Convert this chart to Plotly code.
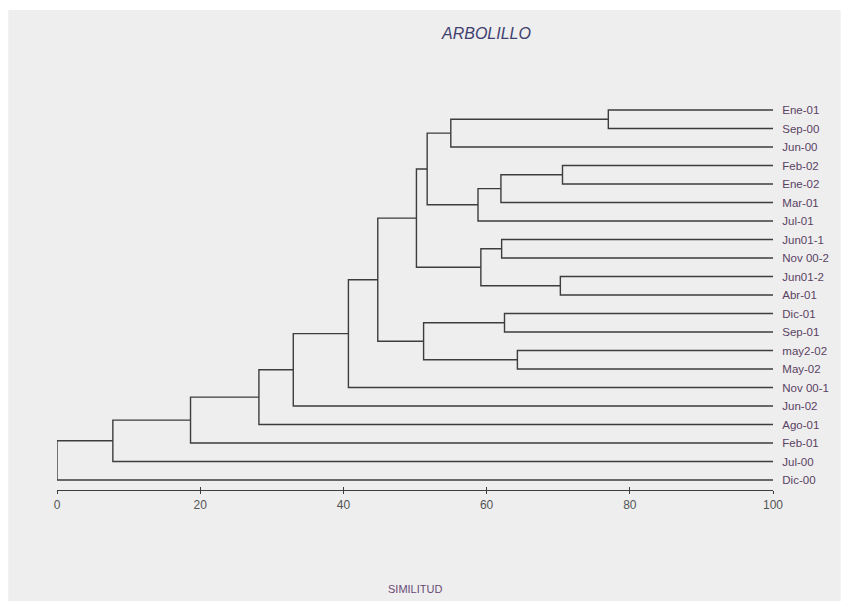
import plotly.graph_objects as go

# ---- data -------------------------------------------------------------
leaves = ["Ene-01", "Sep-00", "Jun-00", "Feb-02", "Ene-02", "Mar-01", "Jul-01",
          "Jun01-1", "Nov 00-2", "Jun01-2", "Abr-01", "Dic-01", "Sep-01",
          "may2-02", "May-02", "Nov 00-1", "Jun-02", "Ago-01", "Feb-01",
          "Jul-00", "Dic-00"]

# merges: (child A, child B, similarity); "mN" refers to the N-th merge (1-based)
merge_a = ["Ene-01", "m1", "Feb-02", "m3", "m4", "m2", "Jun01-1", "Jun01-2", "m7",
           "m6", "Dic-01", "may2-02", "m11", "m10", "m14", "m15", "m16", "m17",
           "m18", "m19"]
merge_b = ["Sep-00", "Jun-00", "Ene-02", "Mar-01", "Jul-01", "m5", "Nov 00-2",
           "Abr-01", "m8", "m9", "Sep-01", "May-02", "m12", "m13", "Nov 00-1",
           "Jun-02", "Ago-01", "Feb-01", "Jul-00", "Dic-00"]
merge_sim = [77.0, 55.0, 70.6, 62.0, 58.8, 51.7, 62.1, 70.3, 59.2, 50.2,
             62.5, 64.3, 51.2, 44.8, 40.7, 33.0, 28.2, 18.65, 7.8, 0.0]

x_ticks = [0, 20, 40, 60, 80, 100]
leaf_sim = 100

# ---- build dendrogram path -------------------------------------------
pos = {name: (leaf_sim, i) for i, name in enumerate(leaves)}
xs, ys = [], []
for k, (a, b, s) in enumerate(zip(merge_a, merge_b, merge_sim), start=1):
    xa, ya = pos[a]
    xb, yb = pos[b]
    xs += [xa, s, s, xb, None]
    ys += [ya, ya, yb, yb, None]
    pos["m%d" % k] = (s, (ya + yb) / 2.0)

line_color = "#3d3d3d"
font_fam = "Liberation Sans, Arial, sans-serif"

fig = go.Figure()
fig.add_trace(go.Scatter(x=xs, y=ys, mode="lines",
                         line=dict(color=line_color, width=1.4),
                         hoverinfo="skip", showlegend=False))
# dummy trace for overlay axis (inside ticks)
fig.add_trace(go.Scatter(x=[0, 100], y=[0, 0], mode="lines", line=dict(width=0),
                         xaxis="x2", yaxis="y", hoverinfo="skip", showlegend=False))

L, R, T, B = 57, 64, 100, 111
W, H = 841, 601
plot_w = W - L - R
plot_h = H - T - B

def px_x(p):
    return (p - L) / plot_w

def px_y(p):
    return (H - B - p) / plot_h

fig.update_layout(
    width=W, height=H,
    margin=dict(l=L, r=R, t=T, b=B, pad=0),
    paper_bgcolor="white",
    plot_bgcolor="rgba(0,0,0,0)",
    font=dict(family=font_fam),
    xaxis=dict(range=[0, 100], tickvals=x_ticks, ticktext=[str(v) for v in x_ticks],
               showline=True, linecolor=line_color, linewidth=1.4,
               ticks="outside", ticklen=3, tickwidth=1.4, tickcolor=line_color,
               showgrid=False, zeroline=False,
               tickfont=dict(size=12, color="#555555", family=font_fam)),
    xaxis2=dict(range=[0, 100], tickvals=x_ticks, overlaying="x", side="bottom",
                anchor="y", ticks="inside", ticklen=3, tickwidth=1.4,
                tickcolor=line_color, showticklabels=False, showgrid=False,
                zeroline=False, showline=False),
    yaxis=dict(range=[len(leaves) - 1 + 0.54, -0.54], side="right",
               tickvals=list(range(len(leaves))), ticktext=leaves,
               ticks="outside", ticklen=6, tickcolor="rgba(0,0,0,0)",
               showgrid=False, zeroline=False, showline=False,
               tickfont=dict(size=11.5, color="#5a4263", family=font_fam)),
    shapes=[dict(type="rect", xref="paper", yref="paper",
                 x0=px_x(8), x1=px_x(845), y0=px_y(605), y1=px_y(10),
                 fillcolor="#EEEEEE", line=dict(width=0), layer="below")],
    annotations=[
        dict(text="<i>ARBOLILLO</i>", xref="paper", yref="paper",
             x=px_x(488), y=px_y(34), xanchor="center", yanchor="middle",
             showarrow=False, font=dict(size=16, color="#414170", family=font_fam)),
        dict(text="SIMILITUD", xref="paper", yref="paper",
             x=0.5, y=px_y(589), xanchor="center", yanchor="middle",
             showarrow=False, font=dict(size=11, color="#6a4a78", family=font_fam)),
    ],
)

fig.write_html("out.html")
